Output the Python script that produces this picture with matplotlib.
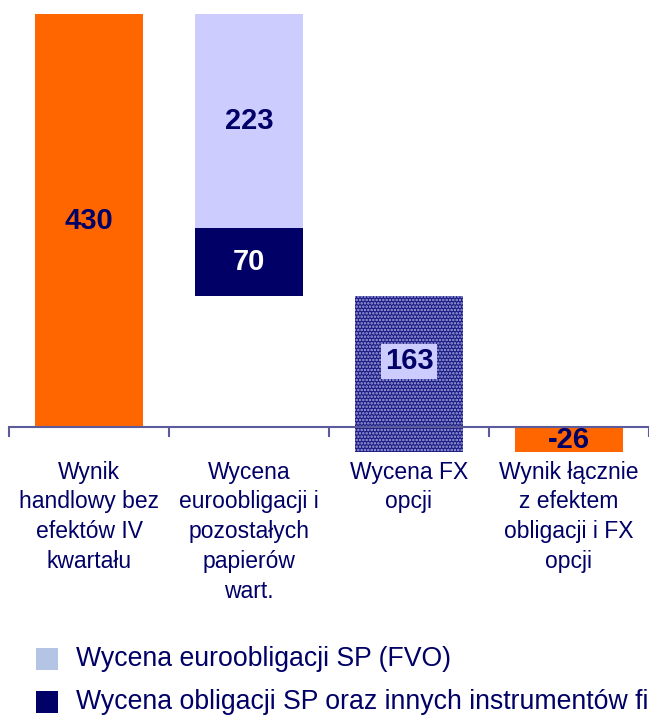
import numpy as np
import matplotlib
matplotlib.use('Agg')
import matplotlib.pyplot as plt
from matplotlib.patches import Rectangle

plt.rcParams['font.family'] = ['Liberation Sans', 'DejaVu Sans']
plt.rcParams['hatch.linewidth'] = 1.2

# dane
categories = ['Wynik\nhandlowy bez\nefektów IV\nkwartału',
              'Wycena\neuroobligacji i\npozostałych\npapierów\nwart.',
              'Wycena FX\nopcji',
              'Wynik łącznie\nz efektem\nobligacji i FX\nopcji']
wynik_handlowy = 430
wycena_fvo = 223
wycena_oblig = 70
wycena_fx = 163
wynik_laczny = wynik_handlowy - wycena_fvo - wycena_oblig - wycena_fx
legend_labels = ['Wycena euroobligacji SP (FVO)',
                 'Wycena obligacji SP oraz innych instrumentów finansowych']

orange = '#ff6600'
navy = '#000066'
lavender = '#ccccff'
txt = '#000066'

fig = plt.figure(figsize=(6.49, 7.17), dpi=100)
ax = fig.add_axes([9 / 649, 1 - 456 / 717, 640 / 649, 456 / 717])
x = np.arange(len(categories))
w = 0.675

# bar 1
ax.bar(x[0], wynik_handlowy, w, color=orange, lw=0)
# bar 2 (floating, two parts)
b_fvo = wynik_handlowy - wycena_fvo
b_obl = b_fvo - wycena_oblig
ax.bar(x[1], wycena_fvo, w, bottom=b_fvo, color=lavender, lw=0)
ax.bar(x[1], wycena_oblig, w, bottom=b_obl, color=navy, lw=0)
# bar 3 hatched
b_fx = b_obl - wycena_fx
ax.bar(x[2], wycena_fx, w, bottom=b_fx, facecolor='#1c1c82',
       edgecolor='#a4a8e4', hatch='.....', lw=0)
# bar 4
ax.bar(x[3], wynik_laczny, w, color=orange, lw=0)

fs = 21
ax.text(x[0], wynik_handlowy / 2, str(wynik_handlowy), ha='center', va='center',
        fontsize=fs, fontweight='bold', color=txt)
ax.text(x[1], b_fvo + wycena_fvo / 2, str(wycena_fvo), ha='center', va='center',
        fontsize=fs, fontweight='bold', color=txt)
ax.text(x[1], b_obl + wycena_oblig / 2, str(wycena_oblig), ha='center', va='center',
        fontsize=fs, fontweight='bold', color='white')
ax.text(x[2], b_obl / 2, str(wycena_fx), ha='center', va='center',
        fontsize=fs, fontweight='bold', color=txt,
        bbox=dict(boxstyle='square,pad=0.12', fc=lavender, ec='none'))
ax.text(x[3], wynik_laczny / 2, str(wynik_laczny), ha='center', va='center',
        fontsize=fs, fontweight='bold', color=txt)

ax.set_xlim(-0.5, 3.5)
ax.set_ylim(-30, 445)
for s in ['top', 'right', 'left']:
    ax.spines[s].set_visible(False)
ax.spines['bottom'].set_position(('data', 0))
ax.spines['bottom'].set_color('#5c5c9c')
ax.spines['bottom'].set_linewidth(1.5)
ax.set_yticks([])
ax.set_xticks(x)
ax.set_xticklabels(categories, fontsize=16.5, color=txt, linespacing=1.38)
ax.tick_params(axis='x', which='major', length=0, pad=24)
ax.set_xticks(np.arange(-0.5, 4, 1), minor=True)
ax.tick_params(axis='x', which='minor', length=7, width=1.5, color='#5c5c9c',
               direction='out')

# legenda
for i, (lab, col) in enumerate(zip(legend_labels, ['#b4c4e4', navy])):
    yc = 1 - (659 + 43 * i) / 717
    fig.patches.append(Rectangle((36 / 649, yc - 11 / 717), 22 / 649, 22 / 717,
                                 transform=fig.transFigure, color=col, lw=0))
    fig.text(76 / 649, yc, lab, fontsize=19.2, color=txt, va='center', ha='left')

fig.savefig('out.png', dpi=100)
